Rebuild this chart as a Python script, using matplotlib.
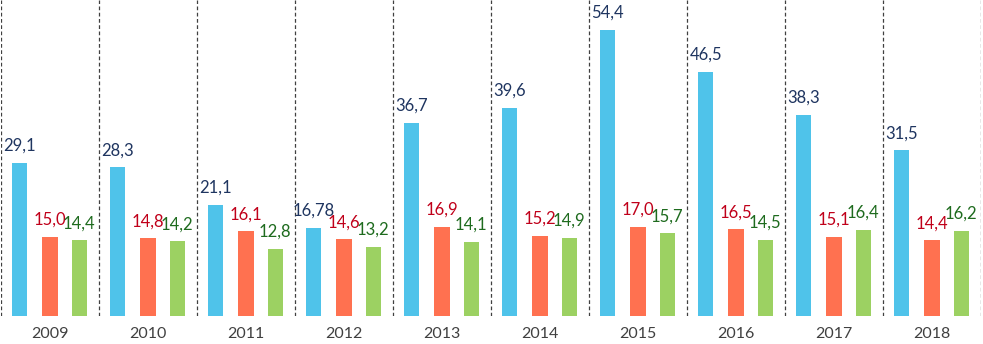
import matplotlib
matplotlib.use("Agg")
import matplotlib.pyplot as plt
import numpy as np

# ── data ───────────────────────────────────────────────────────────────────────
years  = ["2009", "2010", "2011", "2012", "2013", "2014", "2015", "2016", "2017", "2018"]
blue   = [29.1, 28.3, 21.1, 16.78, 36.7, 39.6, 54.4, 46.5, 38.3, 31.5]
red    = [15.0, 14.8, 16.1, 14.6, 16.9, 15.2, 17.0, 16.5, 15.1, 14.4]
green  = [14.4, 14.2, 12.8, 13.2, 14.1, 14.9, 15.7, 14.5, 16.4, 16.2]
blue_lbl = ["29,1", "28,3", "21,1", "16,78", "36,7", "39,6", "54,4", "46,5", "38,3", "31,5"]

def fmt(v):
    return f"{v:.1f}".replace(".", ",")

# ── style ──────────────────────────────────────────────────────────────────────
plt.rcParams["font.family"] = ["Lato", "DejaVu Sans"]

series = [
    (blue,  "#4FC3EA", "#1F3560", blue_lbl, -0.31),
    (red,   "#FF7150", "#C0001A", [fmt(v) for v in red],   0.0),
    (green, "#9CD162", "#1E6B1E", [fmt(v) for v in green], 0.30),
]
BAR_W = 0.155

fig = plt.figure(figsize=(9.83, 3.44), dpi=100)
ax = fig.add_axes([1 / 983, 28 / 344, 980 / 983, 316 / 344])

x = np.arange(len(years))
for vals, col, txtcol, labels, off in series:
    ax.bar(x + off, vals, width=BAR_W, color=col, zorder=2)
    for xi, v, lab in zip(x + off, vals, labels):
        ax.annotate(lab, (xi, v), xytext=(0, 6.5), textcoords="offset points",
                    ha="center", va="bottom", fontsize=12, color=txtcol, zorder=3)

# dashed separators between year groups
for b in np.arange(-0.5, len(years) + 0.5, 1.0):
    ax.axvline(b, color="#404040", linestyle=(0, (3, 2)), linewidth=0.9, zorder=1)

ax.set_xlim(-0.5, len(years) - 0.5)
ax.set_ylim(0, 60.1)
ax.set_xticks(x)
ax.set_xticklabels(years, fontsize=11.5, color="#404040")
ax.tick_params(axis="x", length=0, pad=8)
ax.set_yticks([])
for s in ax.spines.values():
    s.set_visible(False)

fig.savefig("out.png", dpi=100)
